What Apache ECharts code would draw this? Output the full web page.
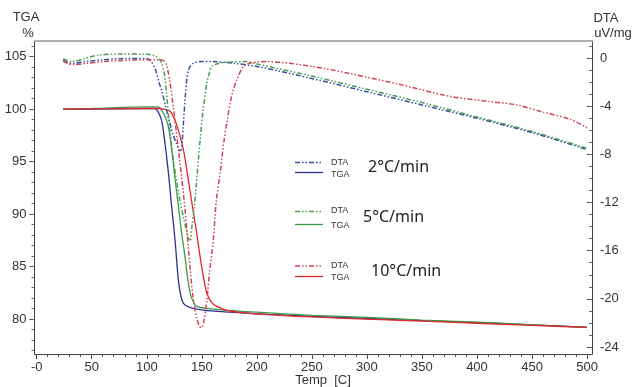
<!DOCTYPE html>
<html>
<head>
<meta charset="utf-8">
<script src="https://cdn.jsdelivr.net/npm/echarts@6/dist/echarts.min.js"></script>
<style>html,body{margin:0;padding:0;background:#fff}#c{width:635px;height:387px}</style>
</head>
<body>
<div id="c"></div>
<script>
// ---- tick labels ----
const xTicks = [0, 50, 100, 150, 200, 250, 300, 350, 400, 450, 500];
const xTickLabels = ['-0', '50', '100', '150', '200', '250', '300', '350', '400', '450', '500'];
const tgaTicks = [80, 85, 90, 95, 100, 105];
const dtaTicks = [0, -4, -8, -12, -16, -20, -24];

// ---- TGA (%) ----
const tga2T = [24, 50, 100, 107, 110, 113.5, 116, 119.7, 122.5, 125.7, 128.7, 131, 133.3, 139, 151, 175, 200, 250, 300, 350, 400, 450, 500];
const tga2V = [100, 100, 100.05, 100.05, 99.8, 98.9, 97.2, 93.9, 90.8, 87.5, 83.7, 82.2, 81.5, 81.1, 80.85, 80.65, 80.5, 80.25, 80.05, 79.85, 79.65, 79.45, 79.2];
const tga5T = [24, 50, 100, 110, 113.5, 117, 119.7, 122.7, 125.5, 128.8, 131.5, 134.8, 137, 139.4, 142, 145.4, 160, 200, 250, 300, 350, 400, 450, 500];
const tga5V = [100, 100.05, 100.2, 100.2, 99.9, 99.2, 98.3, 96.1, 93.5, 90.7, 88.3, 85.9, 84.0, 82.5, 81.7, 81.2, 80.95, 80.65, 80.35, 80.15, 79.9, 79.7, 79.45, 79.2];
const tga10T = [24, 100, 112, 115, 121, 124, 127.8, 133.3, 137.8, 142.4, 145.5, 148.5, 151.5, 154.5, 158, 163.6, 175.7, 200, 250, 300, 350, 400, 450, 500];
const tga10V = [100, 100.05, 100.05, 100.0, 99.8, 99.3, 98.3, 96.1, 93.2, 90.1, 88.1, 85.9, 84.0, 82.5, 81.7, 81.2, 80.75, 80.5, 80.2, 80.0, 79.8, 79.6, 79.4, 79.2];

// ---- DTA (uV/mg) ----
const dta2T = [24, 32, 45, 60, 80, 100, 104, 108, 111, 113.5, 117, 121, 124, 127, 130, 131.5, 133.3, 135, 136.3, 138, 139.4, 143, 150, 160, 180, 200, 250, 300, 350, 400, 450, 500];
const dta2V = [-0.2, -0.45, -0.3, -0.15, -0.05, -0.05, -0.3, -1.0, -2.0, -2.7, -4.0, -5.4, -6.4, -7.1, -7.7, -7.6, -5.4, -3.2, -1.8, -1.0, -0.7, -0.4, -0.3, -0.3, -0.45, -0.7, -1.7, -2.8, -3.9, -5.0, -6.2, -7.6];
const dta5T = [24, 32, 45, 57, 76, 100, 108, 111, 113, 116, 118, 121, 125, 130, 134, 138, 139.5, 141, 143, 145, 148.5, 151, 154.5, 157, 159, 165, 175, 190, 200, 250, 300, 350, 400, 450, 500];
const dta5V = [-0.05, -0.3, 0.0, 0.25, 0.33, 0.3, 0.15, -0.1, -0.3, -1.3, -3.0, -6.0, -9.0, -11.8, -13.5, -15.0, -15.1, -14.0, -12.5, -10.5, -6.8, -4.5, -2.1, -1.2, -0.7, -0.45, -0.35, -0.3, -0.5, -1.5, -2.6, -3.7, -4.9, -6.1, -7.5];
const dta10T = [24, 32, 45, 60, 88, 110, 115, 118, 121, 124, 128, 133, 136, 139.4, 142, 145.4, 148, 150, 152, 154.5, 157, 160.5, 163, 166.6, 170, 172.7, 177, 181.8, 187.8, 193, 200, 209, 250, 285, 330, 376, 410, 436, 460, 485, 500];
const dta10V = [-0.25, -0.55, -0.45, -0.3, -0.17, -0.15, -0.2, -0.6, -2.0, -4.0, -7.0, -11.0, -13.8, -17.5, -19.8, -21.6, -22.3, -22.4, -21.8, -20.2, -17.8, -15.1, -12.0, -9.6, -7.0, -5.4, -3.2, -1.8, -0.7, -0.45, -0.35, -0.3, -0.7, -1.3, -2.2, -3.2, -3.6, -3.9, -4.5, -5.1, -5.8];

const pairs = (t, v) => t.map((x, i) => [x, v[i]]);
const range = (a, b, s) => { const r = []; for (let x = a; x <= b + 1e-9; x += s) r.push(x); return r; };

const C = {
  blueT: '#2e3192', blueD: '#34509e',
  greenT: '#3a9a48', greenD: '#4b9a55',
  redT: '#e2262c', redD: '#cf4456'
};
const dtaDash = [5, 2, 1.5, 2, 1.5, 2];
const font = 'Liberation Sans, Arial, sans-serif';

const X = { min: -2, max: 504.5 };
const YL = { min: 76.67, max: 106.48 };
const YR = { min: -24.58, max: 1.41 };

function tgaSeries(name, t, v, color) {
  return { name, type: 'line', xAxisIndex: 0, yAxisIndex: 0, data: pairs(t, v), showSymbol: false, smooth: 0.3,
    lineStyle: { color, width: 1.3 }, z: 3 };
}
function dtaSeries(name, t, v, color) {
  return { name, type: 'line', xAxisIndex: 0, yAxisIndex: 1, data: pairs(t, v), showSymbol: false, smooth: 0.3,
    lineStyle: { color, width: 1.5, type: dtaDash }, z: 4 };
}

function legendGroup(y1, y2, yt1, yt2, tx, ty, label, cd, ct) {
  return [
    { type: 'line', shape: { x1: 295, y1: y1, x2: 323, y2: y1 }, style: { stroke: cd, lineWidth: 1.5, lineDash: dtaDash } },
    { type: 'line', shape: { x1: 295, y1: y2, x2: 323, y2: y2 }, style: { stroke: ct, lineWidth: 1.3 } },
    { type: 'text', x: 331, y: yt1, style: { text: 'DTA', font: '9px ' + font, fill: '#333', verticalAlign: 'middle' } },
    { type: 'text', x: 331, y: yt2, style: { text: 'TGA', font: '9px ' + font, fill: '#333', verticalAlign: 'middle' } },
    { type: 'text', x: tx, y: ty, style: { text: label, font: '16px "Noto Sans", sans-serif', fill: '#222', verticalAlign: 'middle' } }
  ];
}

const chart = echarts.init(document.getElementById('c'), null, { renderer: 'canvas' });
chart.setOption({
  animation: false,
  backgroundColor: '#fff',
  grid: { left: 34.5, right: 43, top: 41, bottom: 33 },
  xAxis: [
    { type: 'value', position: 'bottom', min: X.min, max: X.max,
      axisLine: { show: true, onZero: false, lineStyle: { color: '#444', width: 1 } },
      axisTick: { show: true, customValues: xTicks, length: 5, lineStyle: { color: '#444' } },
      axisLabel: { customValues: xTicks, formatter: v => xTickLabels[xTicks.indexOf(v)], color: '#333', fontSize: 13, fontFamily: font, margin: 7 },
      splitLine: { show: false } },
    { type: 'value', position: 'top', min: X.min, max: X.max,
      axisLine: { show: true, onZero: false, lineStyle: { color: '#b0b0b0', width: 2 } },
      axisTick: { show: false }, axisLabel: { show: false }, splitLine: { show: false } },
    { type: 'value', position: 'bottom', min: X.min, max: X.max,
      axisLine: { show: false, onZero: false },
      axisTick: { show: true, customValues: range(10, 500, 10), length: 3, lineStyle: { color: '#555' } },
      axisLabel: { show: false }, splitLine: { show: false } }
  ],
  yAxis: [
    { type: 'value', position: 'left', min: YL.min, max: YL.max,
      axisLine: { show: true, onZero: false, lineStyle: { color: '#444', width: 1 } },
      axisTick: { show: true, customValues: tgaTicks, length: 5, lineStyle: { color: '#444' } },
      axisLabel: { customValues: tgaTicks, color: '#333', fontSize: 13, fontFamily: font, margin: 8 },
      splitLine: { show: false } },
    { type: 'value', position: 'right', min: YR.min, max: YR.max,
      axisLine: { show: true, onZero: false, lineStyle: { color: '#444', width: 1 } },
      axisTick: { show: true, inside: true, customValues: dtaTicks, length: 5, lineStyle: { color: '#444' } },
      axisLabel: { customValues: dtaTicks, color: '#333', fontSize: 13, fontFamily: font, margin: 8 },
      splitLine: { show: false } },
    { type: 'value', position: 'left', min: YL.min, max: YL.max,
      axisLine: { show: false, onZero: false },
      axisTick: { show: true, customValues: range(77, 106, 1), length: 3, lineStyle: { color: '#666' } },
      axisLabel: { show: false }, splitLine: { show: false } },
    { type: 'value', position: 'right', min: YR.min, max: YR.max,
      axisLine: { show: false, onZero: false },
      axisTick: { show: true, inside: true, customValues: range(-24, 1, 1), length: 3, lineStyle: { color: '#666' } },
      axisLabel: { show: false }, splitLine: { show: false } }
  ],
  series: [
    tgaSeries('TGA 2°C/min', tga2T, tga2V, C.blueT),
    tgaSeries('TGA 5°C/min', tga5T, tga5V, C.greenT),
    tgaSeries('TGA 10°C/min', tga10T, tga10V, C.redT),
    dtaSeries('DTA 2°C/min', dta2T, dta2V, C.blueD),
    dtaSeries('DTA 5°C/min', dta5T, dta5V, C.greenD),
    dtaSeries('DTA 10°C/min', dta10T, dta10V, C.redD)
  ],
  graphic: [
    { type: 'text', x: 26, y: 17, style: { text: 'TGA', font: '13px ' + font, fill: '#333', align: 'center', verticalAlign: 'middle' } },
    { type: 'text', x: 28, y: 33, style: { text: '%', font: '13px ' + font, fill: '#333', align: 'center', verticalAlign: 'middle' } },
    { type: 'text', x: 606, y: 18, style: { text: 'DTA', font: '13px ' + font, fill: '#333', align: 'center', verticalAlign: 'middle' } },
    { type: 'text', x: 613, y: 33, style: { text: 'uV/mg', font: '13px ' + font, fill: '#333', align: 'center', verticalAlign: 'middle' } },
    { type: 'text', x: 323, y: 380, style: { text: 'Temp  [C]', font: '13px ' + font, fill: '#333', align: 'center', verticalAlign: 'middle' } },
    ...legendGroup(162.5, 172.5, 162.5, 174.5, 368, 167, '2°C/min', C.blueD, C.blueT),
    ...legendGroup(211.5, 224.5, 211, 226, 363, 217, '5°C/min', C.greenD, C.greenT),
    ...legendGroup(266, 276.5, 266, 277.5, 371, 271, '10°C/min', C.redD, C.redT)
  ]
});
</script>
</body>
</html>
